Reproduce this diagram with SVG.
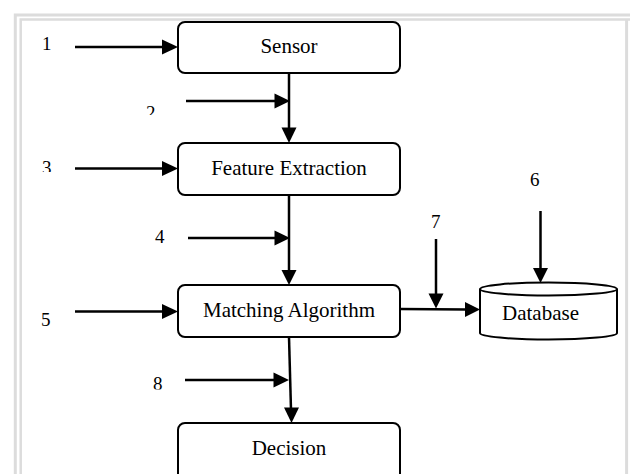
<svg xmlns="http://www.w3.org/2000/svg" width="630" height="474" viewBox="0 0 630 474">
<style>
.box{fill:#fff;stroke:#000;stroke-width:2}
.lbl{font-family:"Liberation Serif","Times New Roman",serif;font-size:21px;fill:#000}
.num{font-family:"Liberation Serif","Times New Roman",serif;font-size:19px;fill:#000}
.ln{stroke:#000;stroke-width:2.5;fill:none}
.hd{fill:#000}
.fr{fill:none;stroke:#dcdcdc}
</style>
<defs>
<clipPath id="c2"><rect x="140" y="95" width="30" height="20"/></clipPath>
<clipPath id="c3"><rect x="35" y="150" width="30" height="22"/></clipPath>
<clipPath id="c8"><rect x="145" y="370" width="30" height="19.5"/></clipPath>
</defs>
<rect x="0" y="0" width="630" height="474" fill="#fff"/>
<g id="frame">
<path class="fr" d="M15.3 474 V15 H630" stroke-width="3"/>
<path class="fr" d="M20.7 474 V19.5 H630" stroke-width="2.5"/>
<path class="fr" d="M626.6 19 V474" stroke-width="3"/>
</g>
<g id="sensor"><rect class="box" x="178" y="22" width="222" height="51" rx="7"/><text class="lbl" x="289" y="53" text-anchor="middle">Sensor</text></g>
<g id="feature"><rect class="box" x="178" y="143" width="222" height="52" rx="7"/><text class="lbl" x="289" y="175" text-anchor="middle">Feature Extraction</text></g>
<g id="matching"><rect class="box" x="178" y="285" width="222" height="52" rx="7"/><text class="lbl" x="289" y="317" text-anchor="middle">Matching Algorithm</text></g>
<g id="decision"><rect class="box" x="178" y="423" width="222" height="60" rx="7"/><text class="lbl" x="289" y="455" text-anchor="middle">Decision</text></g>
<g id="database">
<path class="box" d="M480 289 V333 A68.5 6.5 0 0 0 617 333 V289 A68.5 6.5 0 0 0 480 289 Z"/>
<path class="box" fill="none" d="M480 289 A68.5 6.5 0 0 0 617 289"/>
<text class="lbl" x="502" y="320">Database</text>
</g>
<g id="labels">
<text class="num" x="42" y="50">1</text>
<text class="num" x="146" y="119" clip-path="url(#c2)">2</text>
<text class="num" x="42" y="173.5" clip-path="url(#c3)">3</text>
<text class="num" x="155" y="243">4</text>
<text class="num" x="41" y="326">5</text>
<text class="num" x="530" y="186">6</text>
<text class="num" x="431" y="228">7</text>
<text class="num" x="153" y="390" clip-path="url(#c8)">8</text>
</g>
<g id="connectors">
<line class="ln" x1="75" y1="47" x2="164" y2="47"/><path class="hd" d="M162 39.5 L178 47 L162 54.5 Z"/>
<line class="ln" x1="289" y1="73" x2="289" y2="130"/><path class="hd" d="M281.5 127.5 L289 143 L296.5 127.5 Z"/>
<line class="ln" x1="186" y1="101" x2="276" y2="101"/><path class="hd" d="M274.5 93.5 L290 101 L274.5 108.5 Z"/>
<line class="ln" x1="75" y1="168.5" x2="164" y2="168.5"/><path class="hd" d="M162 161 L178 168.5 L162 176 Z"/>
<line class="ln" x1="289" y1="195" x2="289" y2="272"/><path class="hd" d="M281.5 270 L289 285 L296.5 270 Z"/>
<line class="ln" x1="188" y1="238" x2="276" y2="238"/><path class="hd" d="M274.5 230.5 L290 238 L274.5 245.5 Z"/>
<line class="ln" x1="75" y1="311.5" x2="164" y2="311.5"/><path class="hd" d="M162 304 L178 311.5 L162 319 Z"/>
<line class="ln" x1="289" y1="337" x2="291" y2="410"/><path class="hd" d="M284 407.5 L291.5 423 L299 407.5 Z"/>
<line class="ln" x1="185" y1="380" x2="275" y2="380"/><path class="hd" d="M273.5 372.5 L289 380 L273.5 387.5 Z"/>
<line class="ln" x1="400" y1="309" x2="467" y2="309.5"/><path class="hd" d="M465 302 L480 309.5 L465 317 Z"/>
<line class="ln" x1="436" y1="239" x2="436" y2="296"/><path class="hd" d="M428.5 293.5 L436 308.5 L443.5 293.5 Z"/>
<line class="ln" x1="540.5" y1="211" x2="540.5" y2="270"/><path class="hd" d="M533 268 L540.5 283 L548 268 Z"/>
</g>
</svg>
